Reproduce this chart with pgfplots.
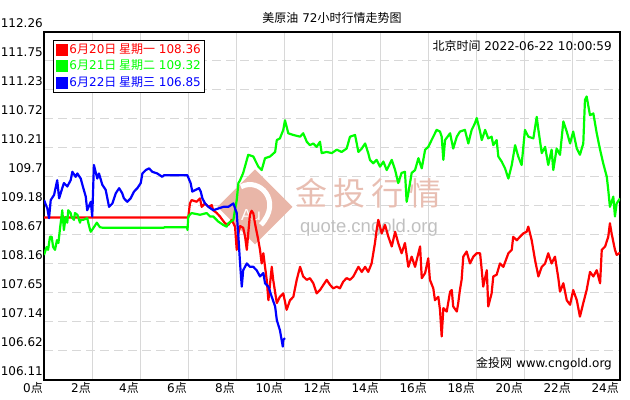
\documentclass[border=0pt]{standalone}
\usepackage{pgfplots}
\pgfplotsset{compat=1.18}
\usepackage{fontspec}
\setmainfont{DejaVu Sans}
\newfontfamily\cjk{Noto Sans CJK SC}
\newfontfamily\wmfont{Liberation Sans}
\definecolor{gridgray}{RGB}{216,216,216}
\definecolor{wmsalmon}{RGB}{233,182,168}
\definecolor{wmtext}{RGB}{232,190,178}
\definecolor{wmgray}{RGB}{192,192,192}
\definecolor{cred}{RGB}{255,0,0}
\definecolor{cgreen}{RGB}{0,255,0}
\definecolor{cblue}{RGB}{0,0,255}
\newcommand{\dian}{{\cjk 点}}
\newcommand{\fs}{\fontsize{12bp}{14bp}\selectfont}
\begin{document}
\begin{tikzpicture}
\path[use as bounding box] (0,0) rectangle (630bp,400bp);
\begin{axis}[
  at={(44bp,20bp)}, anchor=south west,
  scale only axis, width=576bp, height=348bp,
  xmin=0, xmax=24, ymin=106.11, ymax=112.26,
  xtick={0,2,4,6,8,10,12,14,16,18,20,22,24},
  xticklabels={0\dian,2\dian,4\dian,6\dian,8\dian,10\dian,12\dian,14\dian,16\dian,18\dian,20\dian,22\dian,24\dian},
  ytick={106.11,106.6225,107.135,107.6475,108.16,108.6725,109.185,109.6975,110.21,110.7225,111.235,111.7475,112.26},
  yticklabels={106.11,106.62,107.14,107.65,108.16,108.67,109.18,109.7,110.21,110.72,111.23,111.75,112.26},
  major tick length=0pt,
  xmajorgrids, ymajorgrids,
  x grid style={gridgray, line width=1bp},
  y grid style={gridgray, line width=1bp, dash pattern=on 9bp off 5bp},
  axis line style={black, line width=1.5bp},
  tick label style={font=\fs},
  yticklabel style={anchor=south east, inner sep=0pt, xshift=-1bp, yshift=4bp},
  xticklabel style={anchor=north east, inner sep=0pt, xshift=-1bp, yshift=-2bp},
  title={{\cjk 美原油} 72{\cjk 小时行情走势图}},
  title style={font=\fs, at={(0.5,1)}, anchor=center, yshift=8bp},
  legend style={at={(0.0156,0.977)}, anchor=north west, draw=black, line width=1bp, fill=white, font=\fs, inner xsep=2.5bp, inner ysep=1.5bp, row sep=0.5bp, nodes={inner sep=1.5bp, text height=10bp, text depth=3bp}},
  legend cell align=left,
  legend image code/.code={\fill[#1, draw=none] (0bp,-6bp) rectangle (12bp,6bp);},
  every axis plot/.append style={line width=2.2bp, line join=round},
]
% watermark
\fill[wmsalmon] ([xshift=-37.5bp]axis cs:8.79,109.17) -- ([yshift=37.5bp]axis cs:8.79,109.17) -- ([xshift=37.5bp]axis cs:8.79,109.17) -- ([yshift=-37.5bp]axis cs:8.79,109.17) -- cycle;
\draw[white, line width=5bp] ([xshift=-14bp,yshift=20bp]axis cs:8.79,109.17) .. controls ([xshift=4bp,yshift=30bp]axis cs:8.79,109.17) and ([xshift=28bp,yshift=6bp]axis cs:8.79,109.17) .. ([xshift=6bp,yshift=-18bp]axis cs:8.79,109.17);
\node[white, font=\wmfont\fontsize{16bp}{18bp}\selectfont] at ([xshift=-4bp,yshift=-8bp]axis cs:8.79,109.17) {Au};
\node[text=wmtext, font=\cjk\fontsize{32bp}{36bp}\selectfont, inner sep=0pt] at (axis cs:13.52,109.415) {金\hspace{6bp}投\hspace{6bp}行\hspace{6bp}情};
\node[text=wmgray, font=\wmfont\fontsize{18.5bp}{20bp}\selectfont, inner sep=0pt] at (axis cs:13.54,108.81) {quote.cngold.org};

\addplot[cred] coordinates {
(0,108.98) (5.96,108.98) (6.01,108.98) (6.08,109.23) (6.15,109.29) (6.36,109.26) (6.50,109.32) (6.57,109.17) (6.71,109.23) (6.85,109.17) (6.99,109.20) (7.05,109.11) (7.20,109.06) (7.33,109.00) (7.54,108.88) (7.68,108.85) (7.82,108.94) (7.96,108.82) (8.03,108.41) (8.10,108.70) (8.17,108.83) (8.30,108.80) (8.38,108.64) (8.45,108.41) (8.51,108.70) (8.58,109.03) (8.65,109.10) (8.72,109.06) (8.79,108.88) (8.93,108.58) (9.00,108.41) (9.07,108.17) (9.14,108.35) (9.21,108.11) (9.28,107.88) (9.35,107.52) (9.49,108.11) (9.55,107.88) (9.70,107.47) (9.83,107.58) (9.97,107.64) (10.11,107.35) (10.25,107.52) (10.39,107.58) (10.53,107.88) (10.67,108.11) (10.80,107.94) (10.95,107.88) (11.08,107.91) (11.22,107.82) (11.36,107.64) (11.50,107.70) (11.64,107.79) (11.78,107.88) (11.92,107.79) (12.05,107.73) (12.20,107.76) (12.33,107.73) (12.47,107.85) (12.61,107.91) (12.75,107.88) (12.89,107.94) (13.10,108.11) (13.24,108.02) (13.38,108.11) (13.51,108.02) (13.65,108.17) (13.72,108.35) (13.79,108.53) (13.86,108.76) (13.93,108.94) (14.07,108.70) (14.21,108.85) (14.35,108.64) (14.49,108.47) (14.63,108.73) (14.76,108.53) (14.90,108.35) (15.04,108.53) (15.18,108.11) (15.32,108.29) (15.46,108.11) (15.67,108.47) (15.74,107.91) (15.88,108.00) (16.01,108.26) (16.08,107.88) (16.22,107.73) (16.29,107.52) (16.43,107.58) (16.50,107.35) (16.57,106.88) (16.64,107.38) (16.78,107.32) (16.92,107.67) (16.99,107.70) (17.05,107.41) (17.20,107.32) (17.26,107.47) (17.33,107.70) (17.40,107.88) (17.47,108.29) (17.61,108.38) (17.75,108.17) (17.89,108.29) (18.03,108.35) (18.17,108.35) (18.24,108.05) (18.30,107.76) (18.45,108.05) (18.51,107.41) (18.65,107.64) (18.72,107.94) (18.86,107.97) (19.00,108.17) (19.14,108.11) (19.35,108.35) (19.49,108.41) (19.55,108.64) (19.70,108.58) (19.83,108.64) (19.97,108.70) (20.11,108.73) (20.18,108.82) (20.32,108.58) (20.46,108.23) (20.60,107.94) (20.74,108.11) (20.88,108.17) (21.01,108.35) (21.15,108.17) (21.29,108.29) (21.43,107.91) (21.50,107.67) (21.64,107.82) (21.78,107.52) (21.92,107.44) (22.05,107.70) (22.20,107.52) (22.33,107.23) (22.47,107.47) (22.61,107.70) (22.75,108.02) (22.89,107.94) (23.03,108.05) (23.17,107.82) (23.24,108.41) (23.38,108.47) (23.51,108.64) (23.58,108.88) (23.65,108.70) (23.79,108.41) (23.86,108.32) (24.00,108.36)
};
\addlegendentry{\textcolor{cred}{6{\cjk 月}20{\cjk 日 星期一} 108.36}}

\addplot[cgreen] coordinates {
(0,108.32) (0.11,108.46) (0.17,108.41) (0.25,108.64) (0.32,108.64) (0.38,108.46) (0.46,108.41) (0.54,108.58) (0.60,108.53) (0.67,108.80) (0.74,109.03) (0.76,109.11) (0.83,108.76) (0.90,108.99) (0.97,108.89) (1.01,109.11) (1.11,109.06) (1.15,108.99) (1.25,108.94) (1.29,109.06) (1.39,109.03) (1.50,108.89) (1.53,108.94) (1.63,108.94) (1.80,108.97) (1.92,108.76) (1.95,108.73) (2.08,108.81) (2.20,108.89) (2.33,108.81) (2.46,108.80) (5.00,108.80) (5.01,108.81) (5.96,108.81) (5.98,108.76) (6.01,109.00) (6.15,109.06) (6.50,109.03) (6.78,109.06) (6.92,109.00) (7.05,109.00) (7.26,108.91) (7.33,108.89) (7.47,108.85) (7.61,108.82) (7.68,108.88) (7.89,108.94) (8.03,109.29) (8.10,109.59) (8.17,109.64) (8.30,109.77) (8.51,110.09) (8.72,110.06) (8.93,109.88) (9.07,109.82) (9.21,110.03) (9.42,110.06) (9.63,110.14) (9.70,110.35) (9.83,110.38) (9.97,110.53) (10.04,110.70) (10.18,110.47) (10.39,110.44) (10.67,110.41) (10.80,110.47) (10.95,110.32) (11.08,110.26) (11.22,110.29) (11.36,110.23) (11.50,110.32) (11.57,110.12) (11.78,110.14) (11.99,110.12) (12.20,110.18) (12.40,110.14) (12.61,110.20) (12.75,110.41) (12.96,110.44) (13.10,110.14) (13.24,110.20) (13.38,110.29) (13.51,110.12) (13.58,110.00) (13.72,109.94) (13.86,110.00) (14.00,109.88) (14.14,109.97) (14.28,109.82) (14.49,110.00) (14.63,109.82) (14.76,109.59) (14.90,109.77) (15.04,109.79) (15.11,109.26) (15.18,109.41) (15.32,109.77) (15.46,109.82) (15.60,110.03) (15.74,109.85) (15.88,110.18) (16.01,110.23) (16.22,110.41) (16.36,110.53) (16.50,110.50) (16.57,110.41) (16.64,110.00) (16.71,110.35) (16.92,110.47) (17.05,110.20) (17.20,110.41) (17.33,110.50) (17.54,110.53) (17.68,110.29) (17.82,110.53) (17.96,110.65) (18.03,110.74) (18.17,110.50) (18.24,110.35) (18.38,110.53) (18.51,110.38) (18.65,110.41) (18.72,110.26) (18.86,110.35) (18.93,110.06) (19.07,109.97) (19.21,109.85) (19.35,109.67) (19.49,109.91) (19.63,110.26) (19.76,110.06) (19.90,109.91) (20.04,110.53) (20.18,110.41) (20.39,110.38) (20.53,110.76) (20.60,110.53) (20.74,110.12) (20.88,110.23) (21.01,109.91) (21.15,110.18) (21.22,109.82) (21.36,110.20) (21.50,110.09) (21.64,110.68) (21.78,110.50) (21.92,110.29) (22.05,110.50) (22.20,110.20) (22.33,110.09) (22.47,110.29) (22.54,111.06) (22.61,111.12) (22.75,110.79) (22.89,110.82) (23.03,110.47) (23.17,110.18) (23.30,109.94) (23.45,109.70) (23.51,109.47) (23.58,109.17) (23.72,109.35) (23.79,109.00) (23.86,109.23) (24.00,109.32)
};
\addlegendentry{\textcolor{cgreen}{6{\cjk 月}21{\cjk 日 星期二} 109.32}}

\addplot[cblue] coordinates {
(0,109.29) (0.14,109.14) (0.21,108.97) (0.28,109.29) (0.42,109.38) (0.55,109.64) (0.63,109.32) (0.76,109.50) (0.83,109.59) (0.97,109.53) (1.11,109.64) (1.18,109.79) (1.32,109.70) (1.39,109.76) (1.53,109.67) (1.60,109.56) (1.74,109.35) (1.80,109.11) (1.95,109.26) (2.01,109.00) (2.08,109.91) (2.22,109.67) (2.29,109.76) (2.43,109.56) (2.57,109.47) (2.71,109.17) (2.85,109.23) (2.99,109.41) (3.13,109.50) (3.26,109.41) (3.33,109.32) (3.47,109.26) (3.61,109.32) (3.75,109.44) (3.89,109.50) (4.03,109.59) (4.10,109.76) (4.24,109.82) (4.38,109.85) (4.51,109.79) (4.72,109.76) (4.93,109.70) (5.00,109.73) (5.97,109.73) (6.11,109.59) (6.18,109.44) (6.32,109.47) (6.46,109.50) (6.53,109.44) (6.60,109.32) (6.71,109.23) (6.85,109.17) (7.05,109.11) (7.26,109.14) (7.47,109.17) (7.68,109.17) (7.89,109.23) (8.03,109.06) (8.10,108.64) (8.17,108.17) (8.24,107.76) (8.30,108.05) (8.45,108.17) (8.58,108.11) (8.72,108.11) (8.86,108.05) (9.00,107.94) (9.14,108.00) (9.21,107.82) (9.35,107.76) (9.49,107.58) (9.63,107.41) (9.70,107.17) (9.83,106.99) (9.95,106.70) (9.97,106.82) (10.04,106.85)
};
\addlegendentry{\textcolor{cblue}{6{\cjk 月}22{\cjk 日 星期三} 106.85}}

\node[anchor=north east, font=\fs, inner sep=0pt] at ([xshift=-8bp,yshift=-8bp]rel axis cs:1,1) {{\cjk 北京时间} 2022-06-22 10:00:59};
\node[anchor=base east, font=\fs, inner sep=0pt] at ([xshift=-8bp,yshift=13bp]rel axis cs:1,0) {{\cjk 金投网} www.cngold.org};
\end{axis}
\end{tikzpicture}
\end{document}
